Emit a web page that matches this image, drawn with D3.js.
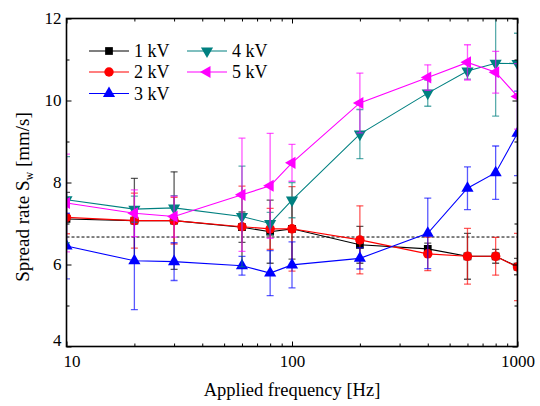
<!DOCTYPE html>
<html>
<head>
<meta charset="utf-8">
<script src="https://cdn.jsdelivr.net/npm/d3@7"></script>
<style>
  body { margin: 0; background: #fff; }
  svg { display: block; }
</style>
</head>
<body>
<div id="chart"></div>
<script>
// Data
const frequencies = [10, 20, 30, 60, 80, 100, 200, 400, 600, 800, 1000];
const series_names = ["1 kV", "2 kV", "3 kV", "4 kV", "5 kV"];
const rate_1kv = [7.11, 7.07, 7.07, 6.91, 6.80, 6.87, 6.48, 6.38, 6.20, 6.20, 5.95];
const err_1kv  = [0.65, 1.03, 1.19, 0.37, 0.77, 0.74, 0.45, 0.14, 0.56, 0.17, 0.20];
const rate_2kv = [7.15, 7.07, 7.07, 6.92, 6.87, 6.87, 6.60, 6.26, 6.20, 6.20, 5.94];
const err_2kv  = [0.40, 0.67, 0.57, 0.99, 0.50, 1.03, 0.83, 0.41, 0.68, 0.46, 0.82];
const rate_3kv = [6.45, 6.09, 6.07, 5.97, 5.79, 5.99, 6.15, 6.76, 7.86, 8.24, 9.20];
const err_3kv  = [0.80, 1.19, 0.46, 0.23, 0.55, 0.56, 0.26, 0.86, 0.52, 0.65, 1.03];
const rate_4kv = [7.58, 7.35, 7.38, 7.17, 7.00, 7.57, 9.18, 10.18, 10.72, 10.91, 10.90];
const err_4kv  = [1.05, 0.32, 0.30, 1.23, 0.27, 0.43, 0.60, 0.32, 0.20, 1.29, 0.74];
const rate_5kv = [7.50, 7.25, 7.17, 7.70, 7.92, 8.48, 9.94, 10.56, 10.93, 10.69, 10.10];
const err_5kv  = [1.19, 0.57, 0.50, 1.38, 1.28, 0.45, 0.73, 0.31, 0.43, 0.51, 0.80];
const reference_rate = 6.67;   // dashed line
const x_ticks = [10, 100, 1000];
const x_minor = [20, 30, 40, 50, 60, 70, 80, 90, 200, 300, 400, 500, 600, 700, 800, 900];
const y_ticks = [4, 6, 8, 10, 12];
const y_minor = [5, 7, 9, 11];

const width = 540;
const height = 406;
const margin = {top: 18.5, right: 22.5, bottom: 59.5, left: 66.5};
const font = "'Liberation Serif', 'Times New Roman', serif";

const series = [
    {name: series_names[0], rate: rate_1kv, err: err_1kv, color: "#000000", symbol: d3.symbolSquare, size: 60, rotate: 0},
    {name: series_names[1], rate: rate_2kv, err: err_2kv, color: "#ff0000", symbol: d3.symbolCircle, size: 70, rotate: 0},
    {name: series_names[2], rate: rate_3kv, err: err_3kv, color: "#0000ff", symbol: d3.symbolTriangle, size: 64, rotate: 0},
    {name: series_names[3], rate: rate_4kv, err: err_4kv, color: "#008080", symbol: d3.symbolTriangle, size: 64, rotate: 180},
    {name: series_names[4], rate: rate_5kv, err: err_5kv, color: "#ff00ff", symbol: d3.symbolTriangle, size: 64, rotate: -90}
];

const x = d3.scaleLog()
    .domain([10, 1000])
    .range([margin.left, width - margin.right]);

const y = d3.scaleLinear()
    .domain([4, 12])
    .range([height - margin.bottom, margin.top]);

const svg = d3.create("svg")
    .attr("viewBox", [0, 0, width, height])
    .attr("width", width)
    .attr("height", height)
    .attr("font-family", font);

svg.append("clipPath")
    .attr("id", "plot-clip")
    .append("rect")
    .attr("x", margin.left)
    .attr("y", margin.top)
    .attr("width", width - margin.left - margin.right)
    .attr("height", height - margin.top - margin.bottom);

const plot = svg.append("g").attr("clip-path", "url(#plot-clip)");

// dashed reference line
plot.append("line")
    .attr("x1", x(10)).attr("x2", x(1000))
    .attr("y1", y(reference_rate)).attr("y2", y(reference_rate))
    .attr("stroke", "#000")
    .attr("stroke-width", 1)
    .attr("stroke-dasharray", "3,2");

const line = d3.line()
    .x(d => x(d.f))
    .y(d => y(d.v));

series.forEach(s => {
    const pts = frequencies.map((f, i) => ({f: f, v: s.rate[i], e: s.err[i]}));
    const g = plot.append("g");

    // error bars
    const bars = g.append("g")
        .attr("stroke", s.color)
        .attr("stroke-opacity", 0.65)
        .attr("stroke-width", 1.3)
        .selectAll("g")
        .data(pts)
        .join("g");

    bars.append("line")
        .attr("x1", d => x(d.f)).attr("x2", d => x(d.f))
        .attr("y1", d => y(d.v - d.e)).attr("y2", d => y(d.v + d.e));
    bars.append("line")
        .attr("x1", d => x(d.f) - 3.5).attr("x2", d => x(d.f) + 3.5)
        .attr("y1", d => y(d.v + d.e)).attr("y2", d => y(d.v + d.e));
    bars.append("line")
        .attr("x1", d => x(d.f) - 3.5).attr("x2", d => x(d.f) + 3.5)
        .attr("y1", d => y(d.v - d.e)).attr("y2", d => y(d.v - d.e));

    g.append("path")
        .attr("d", line(pts))
        .attr("fill", "none")
        .attr("stroke", s.color)
        .attr("stroke-width", 1.1);

    g.append("g")
        .selectAll("path")
        .data(pts)
        .join("path")
        .attr("transform", d => `translate(${x(d.f)},${y(d.v)}) rotate(${s.rotate})`)
        .attr("d", d3.symbol(s.symbol, s.size))
        .attr("fill", s.color);
});

// axes, ticks pointing inward
const tick_font = 17;

function styleAxis(g) {
    g.attr("font-family", null).attr("font-size", null);
    g.select(".domain").remove();
    g.selectAll("line").attr("stroke", "#000").attr("stroke-width", 1);
    g.selectAll("text").attr("font-size", tick_font).attr("fill", "#000");
}

svg.append("g")
    .attr("transform", `translate(0,${height - margin.bottom})`)
    .call(d3.axisBottom(x).tickValues(x_ticks).tickSize(-5).tickPadding(8).tickFormat(d3.format("d")))
    .call(styleAxis)
    .call(g => g.selectAll("text").filter(d => d === 10).attr("dx", 5));
svg.append("g")
    .attr("transform", `translate(0,${height - margin.bottom})`)
    .call(d3.axisBottom(x).tickValues(x_minor).tickSize(-3).tickFormat(""))
    .call(styleAxis);
svg.append("g")
    .attr("transform", `translate(0,${margin.top})`)
    .call(d3.axisTop(x).tickValues(x_ticks).tickSize(-5).tickFormat(""))
    .call(styleAxis);
svg.append("g")
    .attr("transform", `translate(0,${margin.top})`)
    .call(d3.axisTop(x).tickValues(x_minor).tickSize(-3).tickFormat(""))
    .call(styleAxis);

svg.append("g")
    .attr("transform", `translate(${margin.left},0)`)
    .call(d3.axisLeft(y).tickValues(y_ticks).tickSize(-5).tickPadding(5).tickFormat(d3.format("d")))
    .call(styleAxis)
    .call(g => g.selectAll("text").filter(d => d === 4).attr("dy", "-0.05em"));
svg.append("g")
    .attr("transform", `translate(${margin.left},0)`)
    .call(d3.axisLeft(y).tickValues(y_minor).tickSize(-3).tickFormat(""))
    .call(styleAxis);
svg.append("g")
    .attr("transform", `translate(${width - margin.right},0)`)
    .call(d3.axisRight(y).tickValues(y_ticks).tickSize(-5).tickFormat(""))
    .call(styleAxis);
svg.append("g")
    .attr("transform", `translate(${width - margin.right},0)`)
    .call(d3.axisRight(y).tickValues(y_minor).tickSize(-3).tickFormat(""))
    .call(styleAxis);

// frame
svg.append("rect")
    .attr("x", margin.left)
    .attr("y", margin.top)
    .attr("width", width - margin.left - margin.right)
    .attr("height", height - margin.top - margin.bottom)
    .attr("fill", "none")
    .attr("stroke", "#000")
    .attr("stroke-width", 1.6);

// axis titles
svg.append("text")
    .attr("x", (margin.left + width - margin.right) / 2)
    .attr("y", 396)
    .attr("text-anchor", "middle")
    .attr("font-size", 18.5)
    .text("Applied frequency [Hz]");

const ylab = svg.append("text")
    .attr("transform", "translate(29,197) rotate(-90)")
    .attr("text-anchor", "middle")
    .attr("font-size", 19);
ylab.append("tspan").text("Spread rate S");
ylab.append("tspan").attr("font-size", 12).attr("dy", 4).text("w");
ylab.append("tspan").attr("dy", -4).text(" [mm/s]");

// legend
const legend_cols = [89, 187];
const legend_rows = [51, 72, 93.5];
const legend = svg.append("g")
    .selectAll("g")
    .data(series)
    .join("g")
    .attr("transform", (d, i) => `translate(${legend_cols[Math.floor(i / 3)]},${legend_rows[i % 3]})`);

legend.append("line")
    .attr("x1", 0).attr("x2", 40)
    .attr("stroke", d => d.color)
    .attr("stroke-width", 1.1);
legend.append("path")
    .attr("transform", d => `translate(20,0) rotate(${d.rotate})`)
    .attr("d", d => d3.symbol(d.symbol, d.size)())
    .attr("fill", d => d.color);
legend.append("text")
    .attr("x", 45)
    .attr("dy", "0.35em")
    .attr("font-size", 18)
    .text(d => d.name);

document.getElementById("chart").append(svg.node());
</script>
</body>
</html>
